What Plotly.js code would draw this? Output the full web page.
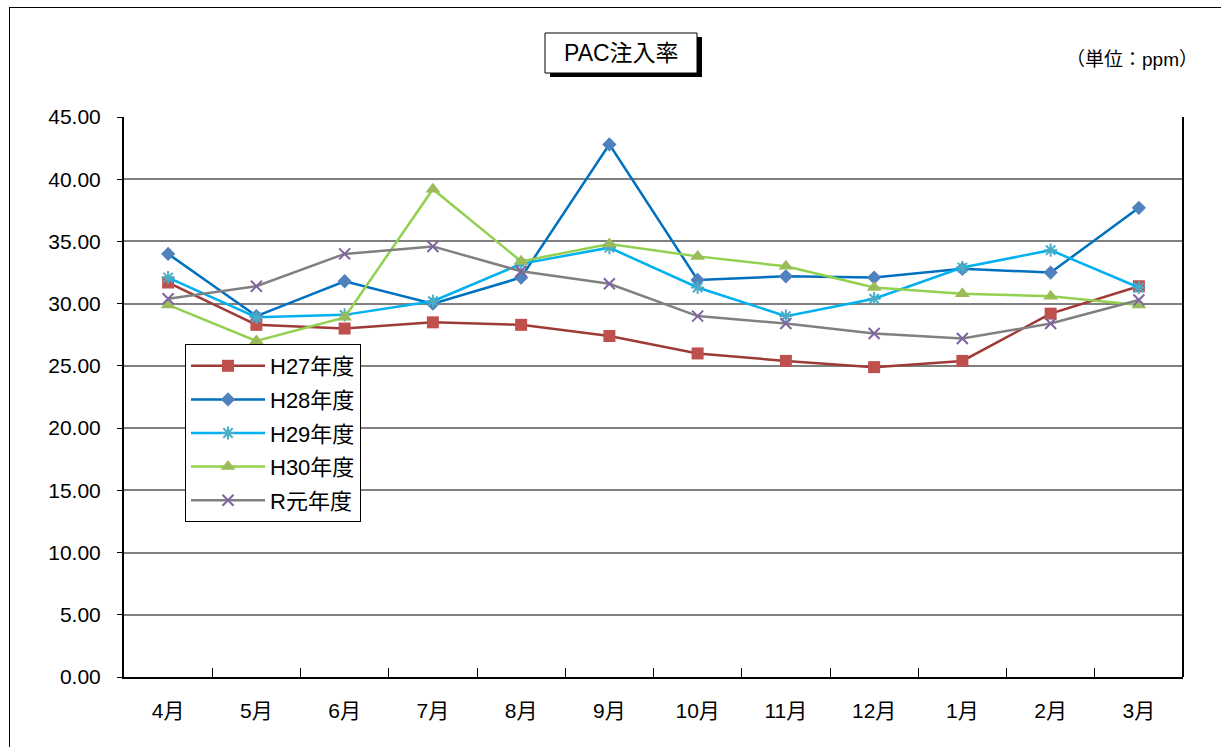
<!DOCTYPE html>
<html><head><meta charset="utf-8">
<script src="https://cdn.plot.ly/plotly-3.0.1.min.js"></script>
<style>
html,body{margin:0;padding:0;background:#fff;}
#frame{position:absolute;left:9px;top:7px;width:1212px;height:740px;border-left:1px solid #000;border-top:1px solid #000;}
#chart{position:absolute;left:0;top:0;width:1221px;height:747px;}
</style></head>
<body>
<div id="frame"></div>
<div id="chart"></div>
<script>
const months = ["4月","5月","6月","7月","8月","9月","10月","11月","12月","1月","2月","3月"];
const seriesNames = ["H27年度","H28年度","H29年度","H30年度","R元年度"];
const h27 = [31.7, 28.3, 28.0, 28.5, 28.3, 27.4, 26.0, 25.4, 24.9, 25.4, 29.2, 31.4];
const h28 = [34.0, 29.0, 31.8, 30.0, 32.1, 42.8, 31.9, 32.2, 32.1, 32.8, 32.5, 37.7];
const h29 = [32.1, 28.9, 29.1, 30.2, 33.2, 34.5, 31.3, 29.0, 30.4, 32.9, 34.3, 31.3];
const h30 = [29.9, 27.0, 28.9, 39.2, 33.4, 34.8, 33.8, 33.0, 31.3, 30.8, 30.6, 29.9];
const r1  = [30.4, 31.4, 34.0, 34.6, 32.6, 31.6, 29.0, 28.4, 27.6, 27.2, 28.4, 30.3];
const yTicks = [0,5,10,15,20,25,30,35,40,45];

const styles = [
  {line:"#9E3B37", mk:"#C0504D", sym:"square", size:12},
  {line:"#0070C0", mk:"#4F81BD", sym:"diamond", size:11},
  {line:"#00B0F0", mk:"#4BACC6", sym:"asterisk", size:11},
  {line:"#92D050", mk:"#9BBB59", sym:"triangle-up", size:13},
  {line:"#808080", mk:"#8064A2", sym:"x-thin", size:11}
];
const data = [h27,h28,h29,h30,r1].map((v,i)=>({
  type:"scatter", mode:"lines+markers", name:seriesNames[i], legendgroup:"g"+i,
  x:months, y:v,
  line:{color:styles[i].line, width:2.5},
  marker:{color:styles[i].mk, symbol:styles[i].sym, size:styles[i].size,
    line:{color:styles[i].mk, width:(styles[i].sym==="asterisk"||styles[i].sym==="x-thin")?2:0}}
}));

const font = "Liberation Sans, Noto Sans CJK JP, sans-serif";
const P = (px)=> (px-124)/1059;   // helper for paper x
const Q = (py)=> (677-py)/560;    // helper for paper y
const layout = {
  width:1221, height:747,
  margin:{l:124, r:38, t:117, b:70},
  paper_bgcolor:"rgba(0,0,0,0)", plot_bgcolor:"#fff",
  font:{family:font, size:21, color:"#000"},
  showlegend:true,
  legend:{x:P(185), y:Q(344), xanchor:"left", yanchor:"top",
    bordercolor:"#000", borderwidth:1, bgcolor:"#fff",
    font:{family:font, size:22, color:"#000"}, tracegroupgap:2, itemwidth:74},
  xaxis:{type:"category", range:[-0.5,11.5], tickvals:months, ticktext:months,
    showline:true, linecolor:"#000", linewidth:2, mirror:false,
    ticks:"inside", tickson:"boundaries", ticklen:9, tickcolor:"#000", tickwidth:1,
    showgrid:false, zeroline:false, tickfont:{family:font, size:21}, ticklabelstandoff:14},
  yaxis:{range:[0,45], tickvals:yTicks, ticktext:yTicks.map(v=>v.toFixed(2)),
    showline:true, linecolor:"#000", linewidth:2,
    ticks:"outside", ticklen:5, tickcolor:"#000",
    showgrid:true, gridcolor:"#808080", gridwidth:1.5, zeroline:false,
    tickfont:{family:font, size:21}, ticklabelstandoff:12},
  shapes:[
    {type:"line", xref:"paper", yref:"paper", x0:1, x1:1, y0:0, y1:1, line:{color:"#000", width:2}},
    {type:"rect", xref:"paper", yref:"paper", x0:P(550), x1:P(702), y0:Q(77), y1:Q(37),
     fillcolor:"#000", line:{width:0}},
    {type:"rect", xref:"paper", yref:"paper", x0:P(545), x1:P(697), y0:Q(73), y1:Q(33),
     fillcolor:"#fff", line:{color:"#000", width:1}}
  ],
  annotations:[
    {text:"PAC注入率", xref:"paper", yref:"paper", x:P(621), y:Q(53), xanchor:"center", yanchor:"middle",
     showarrow:false, font:{family:font, size:23, color:"#000"}},
    {text:"（単位：ppm）", xref:"paper", yref:"paper", x:P(1200), y:Q(60), xanchor:"right", yanchor:"middle",
     showarrow:false, font:{family:font, size:19, color:"#000"}}
  ]
};
Plotly.newPlot("chart", data, layout, {displayModeBar:false});
</script>
</body></html>
